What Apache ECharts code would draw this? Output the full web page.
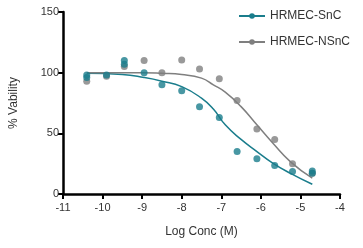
<!DOCTYPE html>
<html>
<head>
<meta charset="utf-8">
<script src="https://cdn.jsdelivr.net/npm/echarts@6/dist/echarts.min.js"></script>
<style>
  html, body { margin: 0; padding: 0; background: #fff; }
  #chart { width: 363px; height: 248px; }
</style>
</head>
<body>
<div id="chart"></div>
<script>
// measured points (log conc, % viability)
const sncPoints = [
  [-10.4, 98], [-10.4, 96], [-9.9, 98], [-9.45, 110], [-9.45, 107],
  [-8.95, 100], [-8.5, 90], [-8.0, 85], [-7.55, 72], [-7.05, 63],
  [-6.6, 35], [-6.1, 29], [-5.65, 23.5], [-5.2, 18.5], [-4.7, 19], [-4.7, 17]
]
const nsncPoints = [
  [-10.4, 93], [-9.9, 97], [-9.45, 105], [-8.95, 110], [-8.5, 100],
  [-8.0, 110.5], [-7.55, 103], [-7.05, 95], [-6.6, 77], [-6.1, 53.5],
  [-5.65, 45], [-5.2, 25], [-4.7, 17]
]
// fitted curves
const sncCurve = [
  [-10.4, 99.5], [-9.5, 98.5], [-8.95, 96], [-8.5, 93], [-8.0, 88.5],
  [-7.5, 79], [-7.2, 70], [-6.9, 57], [-6.5, 45], [-6.1, 35],
  [-5.7, 25.5], [-5.25, 17], [-4.7, 8]
]
const nsncCurve = [
  [-10.4, 100], [-9.5, 100], [-9.0, 100], [-8.5, 99.5], [-8.0, 98.5],
  [-7.5, 95.5], [-7.2, 90], [-6.9, 84], [-6.5, 72], [-6.1, 57],
  [-5.7, 42], [-5.25, 26.5], [-4.7, 13]
]
const names = ['HRMEC-SnC', 'HRMEC-NSnC']
const colors = ['#1a7d8c', '#7f7f7f']

const chart = echarts.init(document.getElementById('chart'))

const font = 'Liberation Sans, Arial'
const axisLine = { lineStyle: { color: '#000', width: 2.5 } }
const axisTick = { show: true, length: 5, lineStyle: { color: '#000', width: 2 } }
const axisLabel = { color: '#333', fontSize: 11, fontFamily: font }

chart.setOption({
  animation: false,
  grid: { left: 61, right: 23, top: 12, bottom: 54 },
  legend: {
    data: names,
    orient: 'vertical',
    right: 8,
    top: 5,
    itemGap: 14,
    itemWidth: 26,
    itemHeight: 7,
    textStyle: { color: '#333', fontSize: 12, fontFamily: font }
  },
  xAxis: {
    type: 'value',
    min: -11,
    max: -4,
    interval: 1,
    name: 'Log Conc (M)',
    nameLocation: 'middle',
    nameGap: 32,
    nameTextStyle: { color: '#333', fontSize: 12, fontFamily: font },
    axisLine: axisLine,
    axisTick: axisTick,
    axisLabel: { ...axisLabel, margin: 8 },
    splitLine: { show: false }
  },
  yAxis: {
    type: 'value',
    min: 0,
    max: 150,
    interval: 50,
    name: '% Vability',
    nameLocation: 'middle',
    nameGap: 43,
    nameTextStyle: { color: '#333', fontSize: 12, fontFamily: font },
    axisLine: { show: true, ...axisLine },
    axisTick: axisTick,
    axisLabel: { ...axisLabel, margin: 4 },
    splitLine: { show: false }
  },
  series: [
    {
      name: names[0], type: 'line', data: sncCurve, smooth: true,
      symbol: 'circle', symbolSize: 7, showSymbol: false,
      lineStyle: { color: colors[0], width: 1.5 }, itemStyle: { color: colors[0] }, z: 2
    },
    {
      name: names[1], type: 'line', data: nsncCurve, smooth: true,
      symbol: 'circle', symbolSize: 7, showSymbol: false,
      lineStyle: { color: colors[1], width: 1.5 }, itemStyle: { color: colors[1] }, z: 2
    },
    {
      name: names[1], type: 'scatter', data: nsncPoints, symbolSize: 7,
      itemStyle: { color: colors[1] }, z: 3
    },
    {
      name: names[0], type: 'scatter', data: sncPoints, symbolSize: 7,
      itemStyle: { color: colors[0] }, z: 4
    }
  ]
})
</script>
</body>
</html>
